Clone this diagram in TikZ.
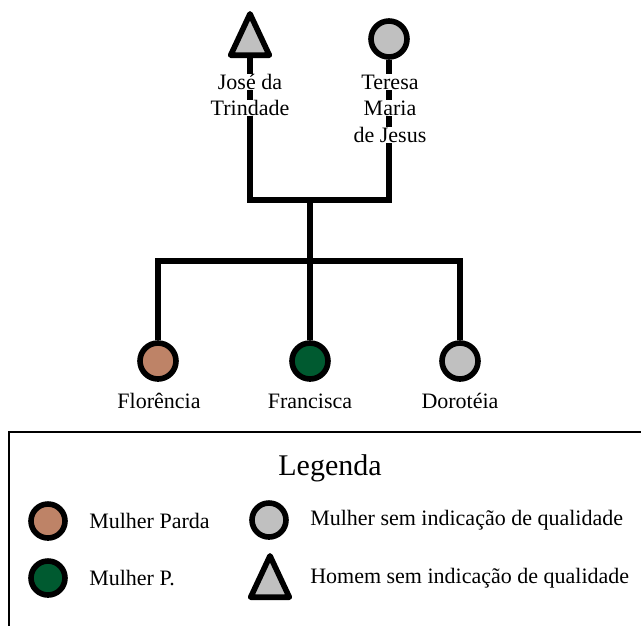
\documentclass[tikz,border=0pt]{standalone}
\usepackage{fontspec}
\setmainfont{Liberation Serif}
\usetikzlibrary{shapes.geometric}
\definecolor{parda}{RGB}{190,131,103}
\definecolor{preta}{RGB}{0,90,48}
\definecolor{semqual}{RGB}{192,192,192}
\tikzset{
    female/.style={
        circle,
        draw=black,
        line width=4.2pt,
        inner sep=0pt,
        minimum size=27pt
    },
    male/.style={
        isosceles triangle,
        isosceles triangle stretches,
        shape border rotate=90,
        draw=black,
        fill=semqual,
        line width=4.2pt,
        line join=round,
        inner sep=0pt,
        minimum width=29pt,
        minimum height=31pt,
        anchor=south
    },
    kin/.style={
        draw=black,
        line width=3.8pt
    },
    nameline/.style={
        fill=white,
        inner sep=0.5pt,
        font=\fontsize{16.5}{19}\selectfont
    },
    legsym/.style={
        female,
        minimum size=25.5pt
    },
    legtext/.style={
        anchor=west,
        inner sep=0pt,
        font=\fontsize{16.5}{19}\selectfont
    }
}
\begin{document}
\begin{tikzpicture}[x=0.75pt,y=-0.75pt]
    \useasboundingbox (0,0) rectangle (641,626);
%% parents
    \node[male] (jose) at (250,58) {};
    \node[female,fill=semqual] (teresa) at (389,39) {};
    \coordinate (marriage) at (310,200);
    \coordinate (siblings) at (310,261);
%% children
    \node[female,fill=parda] (florencia) at (158,361) {};
    \node[female,fill=preta] (francisca) at (310,361) {};
    \node[female,fill=semqual] (doroteia) at (460,361) {};
    \draw[kin] (jose.south) |- (marriage) -| (teresa.south);
    \draw[kin] (marriage) -- (siblings);
    \draw[kin] (florencia.north) |- (siblings) -| (doroteia.north);
    \draw[kin] (siblings) -- (francisca.north);
%% names
    \node[nameline] (jose1) at (250,82) {José da};
    \node[nameline] (jose2) at (250,108) {Trindade};
    \node[nameline] (teresa1) at (390,82) {Teresa};
    \node[nameline] (teresa2) at (390,108) {Maria};
    \node[nameline] (teresa3) at (390,135) {de Jesus};
    \node[nameline,fill=none] (florencianame) at (159,401) {Florência};
    \node[nameline,fill=none] (franciscaname) at (310,401) {Francisca};
    \node[nameline,fill=none] (doroteianame) at (460,401) {Dorotéia};
%% legend
    \coordinate (legNE) at (641,432);
    \coordinate (legNW) at (9,432);
    \coordinate (legSW) at (9,626);
    \draw[line width=1.5pt] (legNE) -- (legNW) -- (legSW);
    \node[font=\fontsize{22.5}{26}\selectfont] (legenda) at (330,468) {Legenda};
    \node[legsym,fill=parda] (legparda) at (48,521) {};
    \node[legtext] (legpardatext) at (89,521) {Mulher Parda};
    \node[legsym,fill=preta] (legpreta) at (48,578) {};
    \node[legtext] (legpretatext) at (89,578) {Mulher P.};
    \node[legsym,fill=semqual] (legsemqual) at (269,520) {};
    \node[legtext] (legsemqualtext) at (310,520) {Mulher sem indicação de qualidade};
    \node[male] (leghomem) at (270,600) {};
    \node[legtext] (leghomemtext) at (310,578) {Homem sem indicação de qualidade};
\end{tikzpicture}
\end{document}
